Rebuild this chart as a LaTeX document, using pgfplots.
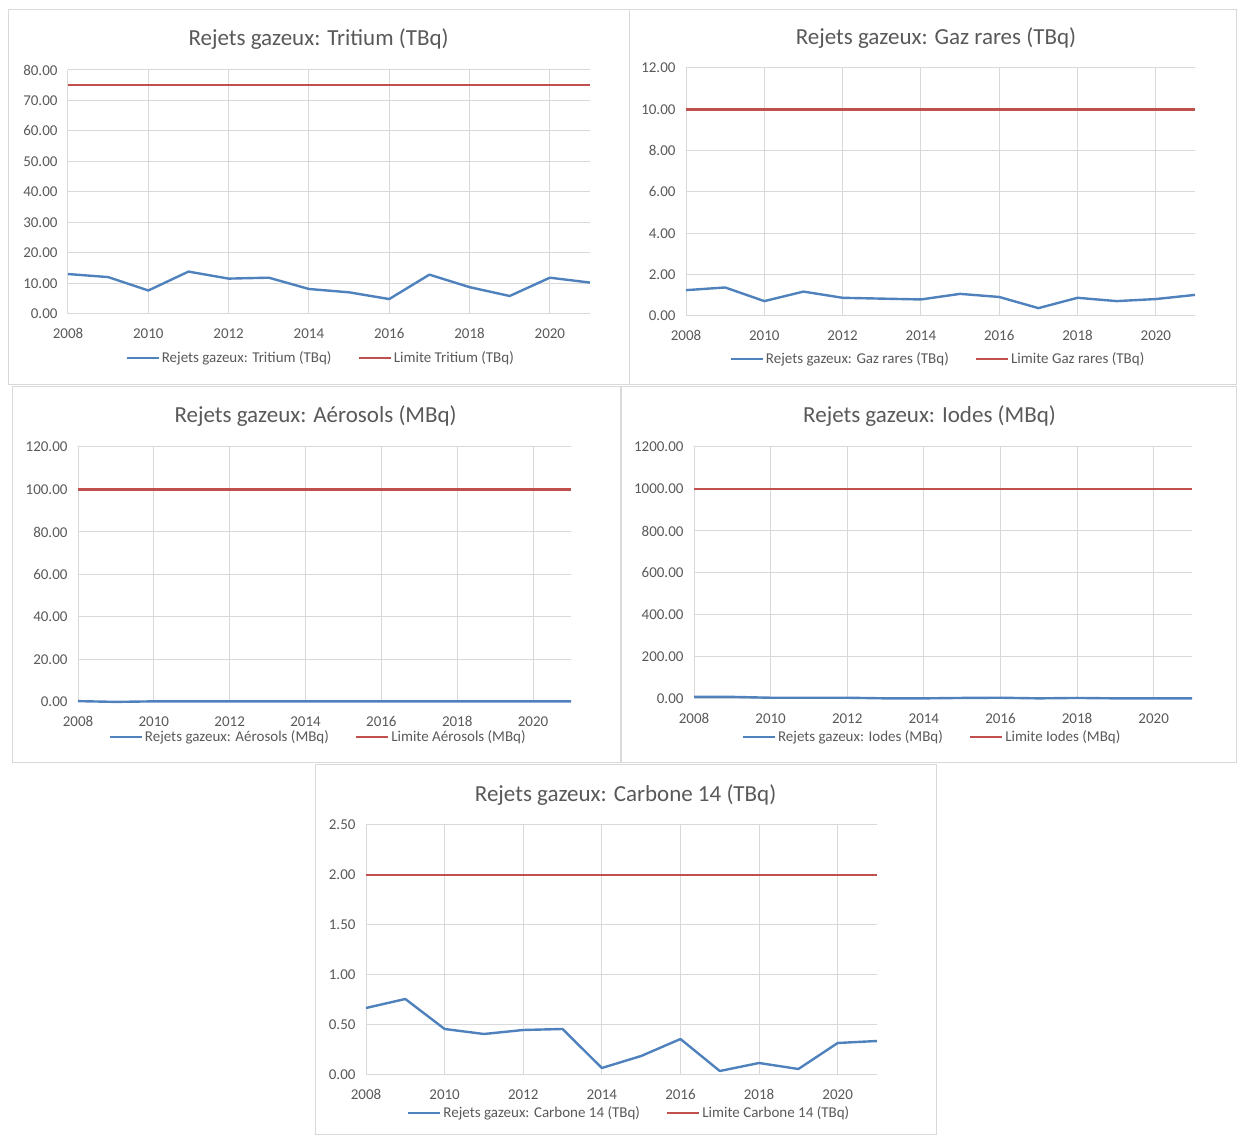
\documentclass[border=0pt]{standalone}
\usepackage{fontspec}
\setmainfont{Carlito}
\usepackage{pgfplots}
\pgfplotsset{compat=1.18}

\definecolor{serblue}{HTML}{4F81BD}
\definecolor{serred}{HTML}{C0504D}
\definecolor{txtgray}{HTML}{595959}
\definecolor{gridgray}{HTML}{D9D9D9}

\pgfplotsset{
  panel/.style={
    scale only axis,
    anchor=south west,
    clip=false,
    xmin=2008, xmax=2021, ymin=0,
    xtick={2008,2010,...,2020},
    axis lines*=left,
    axis line style={gridgray, line width=1pt, -},
    grid=major,
    major grid style={gridgray, line width=1pt},
    major tick length=0pt,
    tick label style={font=\fontsize{15}{16}\selectfont, text=txtgray},
    /pgf/number format/assume math mode=true,
    xticklabel style={/pgf/number format/1000 sep={}, yshift=-11pt},
    yticklabel style={/pgf/number format/.cd, fixed, fixed zerofill, precision=2, 1000 sep={},
      /tikz/.cd, xshift=-7pt},
    title style={font=\fontsize{23}{26}\selectfont, text=txtgray, anchor=center},
    legend columns=2,
    legend cell align=left,
    legend style={draw=none, fill=none, anchor=center, inner sep=0pt,
      font=\fontsize{15}{16}\selectfont, text=txtgray,
      /tikz/every even column/.append style={column sep=24pt}},
    legend image code/.code={\draw[#1] (0pt,0pt) -- (32pt,0pt);},
  },
  vals/.style={serblue, line width=2.4pt, line join=round},
  lim/.style={serred, line width=2.4pt},
}

\begin{document}
\begin{tikzpicture}
\path[use as bounding box] (0pt,0pt) rectangle (1237pt,1135pt);
% panel frames
\begin{scope}[draw=gridgray, line width=1pt]
  \draw (8pt,1125pt) rectangle (629pt,750pt);
  \draw (629pt,1125pt) rectangle (1236.5pt,750pt);
  \draw (12pt,748pt) rectangle (620pt,372pt);
  \draw (621pt,748pt) rectangle (1236.5pt,372pt);
  \draw (315pt,370pt) rectangle (936pt,0.5pt);
\end{scope}

% Tritium
\begin{axis}[panel, at={(68pt,821pt)}, width=522pt, height=244pt,
  ymax=80, ytick={0,10,...,80},
  title={Rejets gazeux: Tritium (TBq)},
  title style={at={(0.480,1)}, yshift=25pt},
  legend style={at={(0.484,-0.180)}}]
\addplot[vals] coordinates {(2008,13.1) (2009,12.1) (2010,7.7) (2011,13.9) (2012,11.6)
  (2013,11.9) (2014,8.2) (2015,7.1) (2016,4.9) (2017,12.9) (2018,8.8) (2019,5.9)
  (2020,11.9) (2021,10.3)};
\addlegendentry{Rejets gazeux: Tritium (TBq)}
\addplot[lim] coordinates {(2008,75) (2021,75)};
\addlegendentry{Limite Tritium (TBq)}
\end{axis}

% Gaz rares
\begin{axis}[panel, at={(686pt,819pt)}, width=509pt, height=248pt,
  ymax=12, ytick={0,2,4,6,8,10,12},
  title={Rejets gazeux: Gaz rares (TBq)},
  title style={at={(0.491,1)}, yshift=24pt},
  legend style={at={(0.495,-0.173)}}]
\addplot[vals] coordinates {(2008,1.25) (2009,1.38) (2010,0.72) (2011,1.18) (2012,0.88)
  (2013,0.84) (2014,0.80) (2015,1.07) (2016,0.92) (2017,0.38) (2018,0.88) (2019,0.72)
  (2020,0.82) (2021,1.02)};
\addlegendentry{Rejets gazeux: Gaz rares (TBq)}
\addplot[lim] coordinates {(2008,10) (2021,10)};
\addlegendentry{Limite Gaz rares (TBq)}
\end{axis}

% Aerosols
\begin{axis}[panel, at={(78pt,433pt)}, width=493pt, height=255pt,
  ymax=120, ytick={0,20,...,120},
  title={Rejets gazeux: Aérosols (MBq)},
  title style={at={(0.482,1)}, yshift=25pt},
  legend style={at={(0.487,-0.137)}}]
\addplot[vals] coordinates {(2008,0.4) (2009,0.05) (2010,0.3) (2011,0.3) (2012,0.3)
  (2013,0.3) (2014,0.3) (2015,0.3) (2016,0.3) (2017,0.3) (2018,0.3) (2019,0.3)
  (2020,0.3) (2021,0.3)};
\addlegendentry{Rejets gazeux: Aérosols (MBq)}
\addplot[lim] coordinates {(2008,100) (2021,100)};
\addlegendentry{Limite Aérosols (MBq)}
\end{axis}

% Iodes
\begin{axis}[panel, at={(694pt,436pt)}, width=498pt, height=252pt,
  ymax=1200, ytick={0,200,...,1200},
  title={Rejets gazeux: Iodes (MBq)},
  title style={at={(0.473,1)}, yshift=25pt},
  legend style={at={(0.478,-0.151)}}]
\addplot[vals] coordinates {(2008,10) (2009,10) (2010,6) (2011,6) (2012,6)
  (2013,3) (2014,3) (2015,5) (2016,6) (2017,3) (2018,5) (2019,3)
  (2020,3) (2021,3)};
\addlegendentry{Rejets gazeux: Iodes (MBq)}
\addplot[lim] coordinates {(2008,1000) (2021,1000)};
\addlegendentry{Limite Iodes (MBq)}
\end{axis}

% Carbone 14
\begin{axis}[panel, at={(366pt,60pt)}, width=511pt, height=250pt,
  ymax=2.5, ytick={0,0.5,1,1.5,2,2.5},
  title={Rejets gazeux: Carbone 14 (TBq)},
  title style={at={(0.508,1)}, yshift=24pt},
  legend style={at={(0.515,-0.152)}}]
\addplot[vals] coordinates {(2008,0.67) (2009,0.76) (2010,0.46) (2011,0.41) (2012,0.45)
  (2013,0.46) (2014,0.07) (2015,0.19) (2016,0.36) (2017,0.04) (2018,0.12) (2019,0.06)
  (2020,0.32) (2021,0.34)};
\addlegendentry{Rejets gazeux: Carbone 14 (TBq)}
\addplot[lim] coordinates {(2008,2) (2021,2)};
\addlegendentry{Limite Carbone 14 (TBq)}
\end{axis}
\end{tikzpicture}
\end{document}
